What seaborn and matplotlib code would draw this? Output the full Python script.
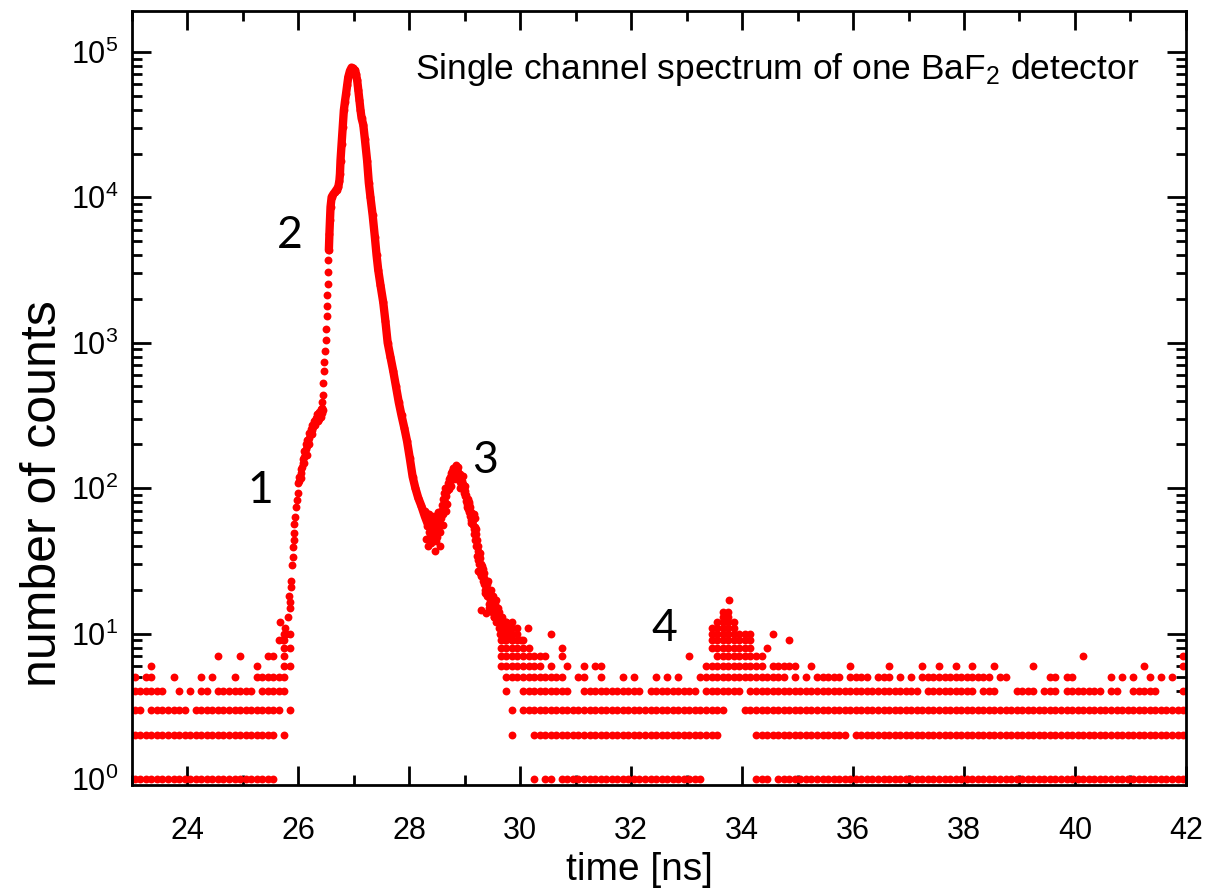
import numpy as np
import pandas as pd
import matplotlib
matplotlib.use("Agg")
import matplotlib.pyplot as plt
import seaborn as sns
from matplotlib.ticker import MultipleLocator, LogLocator, NullFormatter

# ---- background: which integer count levels are occupied, read per 0.1 ns
# (19 blocks of 10 chars = 23..42 ns, '#' = dot present)
levels = [1, 2, 3, 4, 5, 6, 7, 8, 9, 10, 11, 12, 13, 14]
rows = [
    "########## ########## ######.... .......... .......... .......... .......... ..#.##.### ########## ########## ###....... ..###.#### ########## ########## ########## ########## ########## ########## ##########",
    "########## ########## ######.#.. .......... .......... .......... ........#. ..######## ########## ########## ######.... ..######## #########. ########## ########## ########## ########## ########## ##########",
    "##.####### .######### #######.#. .......... .......... .......... ........#. ########## ########## ########## #######... ########## ########## ########## ########## ########## ########## ########## ##########",
    "######..#. #.##.##### ##.#####.. .......... .......... .......... .......#.. #########. .######### ##.####### ##.####### .######### ########## ########## ##.####### ##.###...# ###.###.## #####.##.. #####....#",
    "#.##...#.. ..#.#...#. ..######.. .......... .......... .......... .......### ########.. ##..#...#. #...#.#.#. ..######## ########.# .#.#####.# ###.###.#. #.######## #####.##.. .....##.## ......#.#. #..#.#.#..",
    "...#...... .......... ..#....##. .......... .......... .......... ......#### ####.#..#. .#.##..... .......... ...####### ####.##### ..#......# ......#... ..#..#..#. .#...#.... ..#....... .......... ..#......#",
    ".......... .....#...# ....##.#.. .......... .......... .......... ......#### #####..#.. .......... .......... #....##### ####...... .......... .......... .......... .......... .......... .#........ .........#",
    ".......... .......... .......##. .......... .......... .......... ......#### ##.....#.. .......... .......... ....###### ##..#..... .......... .......... .......... .......... .......... .......... ..........",
    ".......... .......... ......##.. .......... .......... .......... ......#### #......... .......... .......... ....###### ##......#. .......... .......... .......... .......... .......... .......... ..........",
    ".......... .......... .......##. .......... .......... .......... ......#### .....#.... .......... .......... ....###### ##...#.... .......... .......... .......... .......... .......... .......... ..........",
    ".......... .......... .......... .......... .......... .......... ......#### .......... .......... .......... ....#####. .......... .......... .......... .......... .......... .......... .......... ..........",
    ".......... .......... .......... .......... .......... .......... ......###. .......... .......... .......... .....####. .......... .......... .......... .......... .......... .......... .......... ..........",
    ".......... .......... .......... .......... .......... .......... .......... .......... .......... .......... ......##.. .......... .......... .......... .......... .......... .......... .......... ..........",
    ".......... .......... .......... .......... .......... .......... .......... .......... .......... .......... ......##.. .......... .......... .......... .......... .......... .......... .......... ..........",
]

# ---- rising edge and shoulder "1" (separate dots)
edge_t = [25.67, 25.73, 25.76, 25.78, 25.82, 25.84, 25.85, 25.85, 25.86, 25.87,
          25.88, 25.90, 25.91, 25.92, 25.92, 25.93, 25.94, 25.96, 25.97, 25.99,
          26.00, 26.02, 26.04, 26.06, 26.08, 26.10, 26.12, 26.14, 26.16, 26.18,
          26.20, 26.22, 26.24, 26.26, 26.28, 26.30, 26.32, 26.34, 26.36, 26.38,
          26.40, 26.42, 26.43, 26.44, 26.45, 26.46, 26.47, 26.48, 26.49, 26.50,
          26.51, 26.52, 26.525, 26.53, 26.535, 26.54,
          26.02, 26.05, 26.08, 26.11, 26.13, 26.16, 26.19, 26.22, 26.25, 26.28,
          26.31, 26.34, 26.37, 26.40, 26.05, 26.10, 26.15, 26.20, 26.25, 26.30,
          26.35, 26.40, 26.42, 26.44, 26.38]
edge_counts = [12, 9, 11, 10, 13, 18, 15, 16.5, 21, 23,
               29.6, 33.7, 39.5, 44, 49, 57, 63.5, 74, 83, 92,
               108, 120, 128, 140, 150, 164, 175, 185, 195, 210,
               222, 235, 250, 262, 275, 288, 298, 308, 318, 328,
               338, 355, 390, 436, 530, 640, 738, 880, 1040, 1250,
               1520, 1800, 2120, 2550, 3070, 3700,
               112, 135, 158, 180, 200, 215, 240, 255, 270, 290,
               305, 325, 335, 350, 118, 150, 170, 200, 235, 270,
               290, 310, 330, 345, 300]

# ---- main peak (dense, drawn as a chain)
peak_t = [26.55, 26.56, 26.57, 26.58, 26.60, 26.63, 26.66, 26.69, 26.72, 26.74,
          26.75, 26.76, 26.78, 26.80, 26.82, 26.84, 26.86, 26.88, 26.90, 26.93,
          26.96, 26.99, 27.02, 27.04, 27.06, 27.08, 27.10, 27.12, 27.14, 27.17,
          27.20, 27.24, 27.27, 27.30, 27.34, 27.38, 27.41, 27.44, 27.48, 27.53,
          27.57, 27.61, 27.66, 27.71, 27.76, 27.81, 27.86, 27.91, 27.96, 28.01,
          28.06, 28.11, 28.16, 28.22, 28.28, 28.33]
peak_counts = [4325, 5620, 6950, 8570, 10040, 10500, 10870, 11300, 11770, 13000,
               14500, 17900, 23400, 30400, 39600, 45500, 51600, 59000, 67100, 74000,
               78000, 77000, 74600, 70000, 64000, 55000, 47000, 40000, 35000, 31600,
               25000, 17800, 12600, 10000, 7500, 5300, 4000, 3160, 2500, 1900,
               1400, 1000, 800, 640, 500, 390, 316, 260, 210, 160,
               120, 100, 86, 75, 64, 57]

# ---- dip, peak "3" and its tail
bump_t = [28.30, 28.32, 28.33, 28.34, 28.35, 28.36, 28.37, 28.38, 28.39, 28.40,
          28.41, 28.42, 28.43, 28.44, 28.45, 28.46, 28.46, 28.47, 28.48, 28.49,
          28.50, 28.51, 28.52, 28.53, 28.54, 28.55, 28.55, 28.56, 28.57, 28.58,
          28.59, 28.60, 28.61, 28.62, 28.63, 28.64, 28.65, 28.66, 28.67, 28.68,
          28.69, 28.70, 28.71, 28.72, 28.73, 28.74, 28.75, 28.76, 28.77, 28.78,
          28.79, 28.80, 28.81, 28.82, 28.83, 28.84, 28.85, 28.86, 28.87, 28.88,
          28.89, 28.90, 28.91, 28.92, 28.93, 28.94, 28.95, 28.96, 28.97, 28.98,
          28.99, 29.00, 29.01, 29.02, 29.03, 29.04, 29.05, 29.06, 29.07, 29.08,
          29.09, 29.10, 29.11, 29.12, 29.13, 29.14, 29.15, 29.16, 29.17, 29.18,
          29.19, 29.20, 29.21, 29.22, 29.23, 29.24, 29.25, 29.26, 29.27, 29.28,
          29.29, 29.30, 29.31, 29.32, 29.33, 29.34, 29.35, 29.36, 29.37, 29.38,
          29.39, 29.40, 29.42, 29.43, 29.45, 29.46, 29.48, 29.50, 29.51, 29.53,
          29.55, 29.57, 29.58, 29.60, 29.62, 29.64, 29.66, 29.69, 29.72, 29.75,
          29.78, 29.81, 29.85, 29.29, 29.38, 29.24, 29.27, 29.31, 29.45, 29.51,
          29.57, 30.14, 30.02, 33.77,
          28.28, 28.31, 28.36, 28.40, 28.44, 28.48, 28.52, 28.56, 28.60, 28.64,
          28.68, 28.72, 28.76, 28.80, 28.84, 28.88, 28.92, 28.96, 29.00, 29.04,
          29.08, 29.12, 29.16, 29.20, 29.24, 29.28, 29.32, 29.36, 29.40, 29.44,
          29.48, 29.52, 29.56, 29.60, 29.64, 29.68, 29.72, 29.76, 29.18, 29.22,
          29.34, 29.42, 29.47, 29.54, 29.62, 29.70]
bump_counts = [62, 55, 66, 40, 50, 58, 47, 53, 60, 49,
               56, 45, 52, 58, 48, 37, 54, 62, 50, 56,
               46, 60, 52, 66, 55, 40, 62, 58, 70, 62,
               76, 66, 84, 72, 92, 80, 100, 88, 70, 95,
               108, 100, 115, 106, 120, 112, 128, 118, 132, 124,
               138, 128, 120, 140, 130, 145, 126, 136, 118, 130,
               122, 114, 126, 110, 118, 104, 112, 98, 106, 92,
               100, 88, 95, 82, 90, 78, 84, 72, 78, 68,
               74, 64, 68, 60, 64, 56, 60, 52, 48, 54,
               44, 48, 40, 44, 37, 40, 34, 30, 33, 27,
               30, 25, 28, 23, 26, 22, 24, 20, 23, 19,
               21, 18, 20, 16, 19, 15, 17, 14, 16, 13,
               15, 12, 14, 13, 11, 12, 11, 10, 11, 12,
               10, 11, 9, 14.5, 13.8, 27, 26, 29, 17, 18,
               15, 11, 9, 17,
               70, 45, 66, 42, 64, 43, 68, 50, 56, 70,
               78, 98, 104, 116, 120, 140, 100, 122, 104, 74,
               80, 58, 66, 52, 32, 36, 28, 19, 22, 15,
               20, 13, 17, 15, 10, 13, 9, 10, 62, 34,
               26, 23, 18, 16, 14, 12]

labels = ["1", "2", "3", "4"]
label_t = [25.31, 25.85, 29.36, 32.60]
label_counts = [97, 5480, 156, 10.9]

# ---- assemble
bg_t, bg_c = [], []
for c, row in zip(levels, rows):
    s = row.replace(" ", "")
    assert len(s) == 190, (c, len(s))
    for i, ch in enumerate(s):
        if ch == "#":
            bg_t.append(23.05 + 0.1 * i)
            bg_c.append(c)

df = pd.DataFrame({
    "t": bg_t + edge_t + peak_t + bump_t,
    "counts": bg_c + edge_counts + peak_counts + bump_counts,
})

red = "#ff0000"
sns.set_style("ticks", {"axes.edgecolor": "black", "xtick.color": "black",
                        "ytick.color": "black", "text.color": "black",
                        "axes.labelcolor": "black"})
plt.rcParams["font.family"] = ["Liberation Sans", "DejaVu Sans"]
plt.rcParams["mathtext.fontset"] = "custom"
plt.rcParams["mathtext.rm"] = "Liberation Sans"
plt.rcParams["mathtext.it"] = "Liberation Sans:italic"
plt.rcParams["mathtext.default"] = "regular"

fig, ax = plt.subplots(figsize=(12.15, 8.89), dpi=100)
fig.subplots_adjust(left=0.1086, right=0.976, bottom=0.117, top=0.9876)
ax.set_yscale("log")

sns.lineplot(x=peak_t, y=peak_counts, sort=False, estimator=None, color=red,
             lw=6, solid_capstyle="round", ax=ax)
sns.scatterplot(data=df, x="t", y="counts", color=red, s=32, linewidth=0,
                ax=ax, legend=False)

ax.set_xlim(23, 42)
ax.set_ylim(0.909, 1.91e5)
ax.xaxis.set_major_locator(MultipleLocator(2))
ax.xaxis.set_minor_locator(MultipleLocator(1))
ax.yaxis.set_major_locator(LogLocator(base=10, numticks=10))
ax.yaxis.set_minor_locator(LogLocator(base=10, subs=np.arange(2, 10), numticks=20))
ax.yaxis.set_minor_formatter(NullFormatter())

ax.tick_params(which="both", direction="in", top=True, right=True, width=2,
               labelsize=22, colors="black")
ax.tick_params(which="major", length=14)
ax.tick_params(which="minor", length=7)
ax.tick_params(axis="x", pad=22)
ax.tick_params(axis="y", pad=10)
for sp in ax.spines.values():
    sp.set_linewidth(2)
    sp.set_color("black")

ax.set_xlabel("time [ns]", fontsize=28)
ax.set_ylabel("number of counts", fontsize=36)
ax.xaxis.set_label_coords(0.482, -0.086)
ax.yaxis.set_label_coords(-0.063, 0.376)

ax.text(0.956, 0.924, "Single channel spectrum of one BaF$_2$ detector",
        transform=ax.transAxes, ha="right", va="center", fontsize=25.5)

for lab, t, c in zip(labels, label_t, label_counts):
    ax.text(t, c, lab, ha="center", va="center", fontsize=32,
            family=["Lato", "DejaVu Sans"])

fig.savefig("out.png", dpi=100)
